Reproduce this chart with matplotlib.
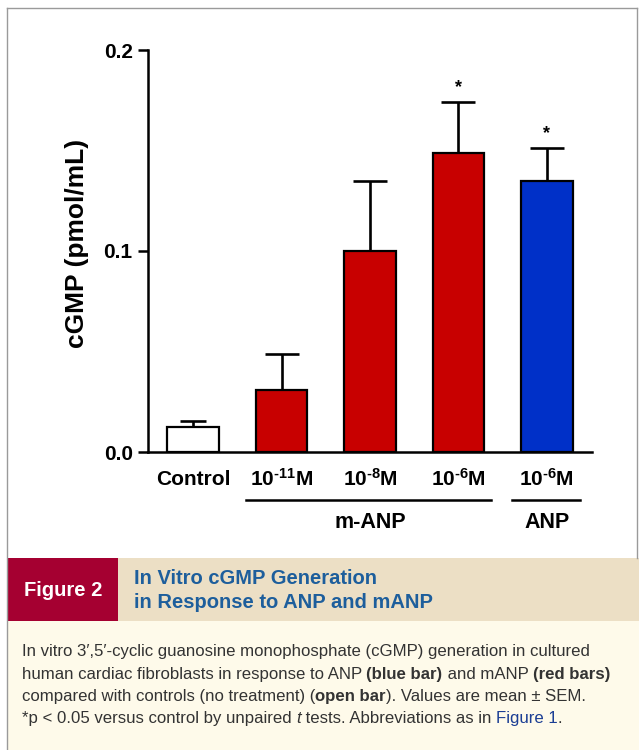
import matplotlib
matplotlib.use("Agg")
import matplotlib.pyplot as plt
from matplotlib.patches import Rectangle
from matplotlib.lines import Line2D

plt.rcParams['font.family'] = ['Liberation Sans', 'DejaVu Sans']
plt.rcParams['mathtext.fontset'] = 'custom'
plt.rcParams['mathtext.bf'] = 'Liberation Sans:bold'
plt.rcParams['mathtext.rm'] = 'Liberation Sans:bold'
plt.rcParams['mathtext.default'] = 'bf'

# ---- data ----
categories = ['Control', r'10$^{\text{-11}}$M', r'10$^{\text{-8}}$M', r'10$^{\text{-6}}$M', r'10$^{\text{-6}}$M']
values = [0.0124, 0.031, 0.100, 0.149, 0.135]
sem = [0.0030, 0.018, 0.035, 0.025, 0.016]
significant = [False, False, False, True, True]
bar_colors = ['white', '#c80000', '#c80000', '#c80000', '#0030c8']
groups = ['m-ANP', 'ANP']
group_members = [[1, 2, 3], [4]]
yticks = [0.0, 0.1, 0.2]
ytick_labels = ['0.0', '0.1', '0.2']

W, H = 639, 750
fig = plt.figure(figsize=(W / 100, H / 100), dpi=100)
fig.patch.set_facecolor('white')

def fx(px):
    return px / W

def fy(py):
    return 1 - py / H

# ---- main axes ----
ax = fig.add_axes([fx(148), fy(452), fx(592) - fx(148), fy(50) - fy(452)])
x = list(range(len(categories)))
ax.bar(x, values, width=0.58, color=bar_colors, edgecolor='black', linewidth=1.6, zorder=3)
for xi, v, e in zip(x, values, sem):
    cs = 9.5 if e < 0.008 else 12.5
    ax.errorbar([xi], [v], yerr=[[0], [e]], fmt='none', ecolor='black',
                elinewidth=1.9, capsize=cs, capthick=1.9, zorder=2)
for xi, v, e, s in zip(x, values, sem, significant):
    if s:
        ax.text(xi, v + e + 0.003, '*', ha='center', va='bottom', fontsize=13,
                fontweight='bold', color='black')

ax.set_xlim(-0.51, 4.51)
ax.set_ylim(0, 0.2)
ax.set_yticks(yticks)
ax.set_yticklabels(ytick_labels, fontsize=15, fontweight='bold')
ax.set_xticks(x)
ax.set_xticklabels(categories, fontsize=15, fontweight='bold')
for lbl in ax.get_xticklabels():
    lbl.set_verticalalignment('baseline')
ax.tick_params(axis='x', length=0, pad=24)
ax.tick_params(axis='y', length=7, width=1.8, direction='out', pad=4)
for sp in ['top', 'right']:
    ax.spines[sp].set_visible(False)
for sp in ['left', 'bottom']:
    ax.spines[sp].set_linewidth(1.8)
ax.set_ylabel('cGMP (pmol/mL)', fontsize=19, fontweight='bold')
ax.yaxis.set_label_coords(-0.133, 0.52)

# group lines and labels
trans = matplotlib.transforms.blended_transform_factory(ax.transData, fig.transFigure)
for g, mem in zip(groups, group_members):
    x0 = min(mem) - 0.40
    x1 = max(mem) + 0.37
    ax.add_line(Line2D([x0, x1], [fy(500), fy(500)], transform=trans, color='black',
                       linewidth=1.8, clip_on=False))
    ax.text((min(mem) + max(mem)) / 2, fy(523), g, transform=trans, ha='center',
            va='center', fontsize=15.5, fontweight='bold')

# ---- frame ----
fig.add_artist(Line2D([fx(7), fx(7)], [fy(8), fy(750)], color='#9a9a9a', linewidth=1.0))
fig.add_artist(Line2D([fx(7), fx(637)], [fy(8), fy(8)], color='#9a9a9a', linewidth=1.0))
fig.add_artist(Line2D([fx(637), fx(637)], [fy(8), fy(558)], color='#9a9a9a', linewidth=1.0))

# ---- caption ----
fig.add_artist(Rectangle((fx(8), fy(621)), fx(639) - fx(8), fy(558) - fy(621),
                         facecolor='#ecdfc5', edgecolor='none'))
fig.add_artist(Rectangle((fx(8), fy(750)), fx(639) - fx(8), fy(621) - fy(750),
                         facecolor='#fefaea', edgecolor='none'))
fig.add_artist(Rectangle((fx(8), fy(621)), fx(118) - fx(8), fy(558) - fy(621),
                         facecolor='#a50031', edgecolor='none'))
fig.text(fx(63), fy(590), 'Figure 2', ha='center', va='center', color='white',
         fontsize=14.5, fontweight='bold')
fig.text(fx(134), fy(579), 'In Vitro cGMP Generation', ha='left', va='center',
         color='#1d5e9c', fontsize=14.5, fontweight='bold')
fig.text(fx(134), fy(602), 'in Response to ANP and mANP', ha='left', va='center',
         color='#1d5e9c', fontsize=14.5, fontweight='bold')

body_color = '#333333'
lines = [
    [('In vitro 3\u2032,5\u2032-cyclic guanosine monophosphate (cGMP) generation in cultured', 'normal', 'normal', body_color)],
    [('human cardiac fibroblasts in response to ANP ', 'normal', 'normal', body_color),
     ('(blue bar)', 'bold', 'normal', body_color),
     (' and mANP ', 'normal', 'normal', body_color),
     ('(red bars)', 'bold', 'normal', body_color)],
    [('compared with controls (no treatment) (', 'normal', 'normal', body_color),
     ('open bar', 'bold', 'normal', body_color),
     ('). Values are mean \u00b1 SEM.', 'normal', 'normal', body_color)],
    [('*p < 0.05 versus control by unpaired ', 'normal', 'normal', body_color),
     ('t', 'normal', 'italic', body_color),
     (' tests. Abbreviations as in ', 'normal', 'normal', body_color),
     ('Figure 1', 'normal', 'normal', '#1b3e94'),
     ('.', 'normal', 'normal', body_color)],
]
line_y = [651, 674, 696, 718]
fig.canvas.draw()
renderer = fig.canvas.get_renderer()
for segs, yy in zip(lines, line_y):
    xpos = 22
    for txt, wt, st, col in segs:
        t = fig.text(fx(xpos), fy(yy), txt, ha='left', va='baseline', fontsize=12.1,
                     fontweight=wt, fontstyle=st, color=col)
        t.set_y(fy(yy + 5))
        bb = t.get_window_extent(renderer=renderer)
        xpos += bb.width

fig.savefig('out.png', dpi=100, facecolor=fig.get_facecolor())
